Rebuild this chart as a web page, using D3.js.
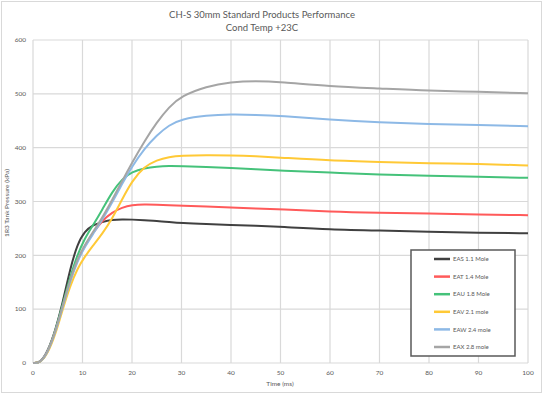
<!DOCTYPE html>
<html>
<head>
<meta charset="utf-8">
<script src="https://cdn.jsdelivr.net/npm/d3@7"></script>
<style>
  html, body { margin: 0; padding: 0; background: #fff; }
  text { font-family: Lato, "Open Sans", sans-serif; fill: #595959; }
</style>
</head>
<body>
<svg width="544" height="396"></svg>
<script>
const times = [0, 1.5, 3, 4.5, 6, 7.5, 9, 10.5, 12, 14, 16, 18, 20, 22.5, 25, 27.5, 30, 35, 40, 45, 50, 60, 70, 80, 90, 100];

const eas = [0, 0, 22, 60, 112, 175, 222, 245, 256, 262, 266, 267, 266.5, 265, 264, 262, 260, 258, 256.5, 255, 253, 248, 246, 244, 242, 241];
const eat = [0, 0, 20, 57, 106, 155, 192, 218, 240, 265, 280, 289, 293.5, 294.5, 294, 293, 292.5, 291, 289, 287, 285.5, 281, 279, 277.5, 276, 274.5];
const eau = [0, 0, 20, 58, 109, 160, 202, 232, 254, 285, 318, 342, 355, 362, 365, 366, 365.5, 364, 362, 360, 357.5, 354, 350, 348, 346, 344];
const eav = [0, 0, 18, 52, 100, 143, 176, 198, 217, 240, 268, 304, 338, 365, 377, 383, 385, 386, 385.5, 384, 381.5, 376, 373.5, 371, 370, 367];
const eaw = [0, 0, 20, 56, 104, 152, 190, 216, 238, 266, 298, 333, 365, 398, 423, 442, 453, 460, 462, 461, 459, 452, 447, 444, 442, 440];
const eax = [0, 0, 21, 57, 106, 155, 194, 220, 242, 270, 303, 338, 372, 412, 447, 476, 496, 514, 522, 524, 522, 514, 510, 505.5, 504, 501];

const seriesNames = ["EAS 1.1 Mole", "EAT 1.4 Mole", "EAU 1.8 Mole", "EAV 2.1 mole", "EAW  2.4 mole", "EAX 2.8 mole"];
const seriesValues = [eas, eat, eau, eav, eaw, eax];
const seriesColors = ["#404040", "#ff5a5a", "#45c27a", "#ffc936", "#8db9e6", "#a5a5a5"];

const xTicks = [0, 10, 20, 30, 40, 50, 60, 70, 80, 90, 100];
const yTicks = [0, 100, 200, 300, 400, 500, 600];

const svg = d3.select("svg");

// outer chart frame
svg.append("rect")
  .attr("x", 1.5).attr("y", 1.5)
  .attr("width", 540).attr("height", 391)
  .attr("fill", "#fff")
  .attr("stroke", "#d9d9d9");

const x = d3.scaleLinear().domain([0, 100]).range([33, 528]);
const y = d3.scaleLinear().domain([0, 600]).range([363, 40]);

// gridlines
svg.append("g")
  .selectAll("line")
  .data(yTicks)
  .join("line")
  .attr("x1", x(0)).attr("x2", x(100))
  .attr("y1", (d) => y(d)).attr("y2", (d) => y(d))
  .attr("stroke", "#d9d9d9")
  .attr("stroke-width", 1.2);

svg.append("g")
  .selectAll("line")
  .data(xTicks)
  .join("line")
  .attr("x1", (d) => x(d)).attr("x2", (d) => x(d))
  .attr("y1", y(0)).attr("y2", y(600))
  .attr("stroke", "#d9d9d9")
  .attr("stroke-width", 1.2);

// tick labels
svg.append("g")
  .selectAll("text")
  .data(yTicks)
  .join("text")
  .attr("x", 26)
  .attr("y", (d) => y(d) + 2.2)
  .attr("text-anchor", "end")
  .style("font-size", "6.5px")
  .text((d) => d);

svg.append("g")
  .selectAll("text")
  .data(xTicks)
  .join("text")
  .attr("x", (d) => x(d))
  .attr("y", 375)
  .attr("text-anchor", "middle")
  .style("font-size", "6.5px")
  .text((d) => d);

// axis titles
svg.append("text")
  .attr("transform", "translate(9,203) rotate(-90)")
  .attr("text-anchor", "middle")
  .style("font-size", "6.5px")
  .text("1R3 Tank Pressure (kPa)");

svg.append("text")
  .attr("x", 280).attr("y", 386)
  .attr("text-anchor", "middle")
  .style("font-size", "6.5px")
  .text("Time (ms)");

// title
svg.append("text")
  .attr("x", 262).attr("y", 18)
  .attr("text-anchor", "middle")
  .style("font-size", "9.5px")
  .text("CH-S 30mm Standard Products Performance");

svg.append("text")
  .attr("x", 262).attr("y", 31)
  .attr("text-anchor", "middle")
  .style("font-size", "9.5px")
  .text("Cond Temp +23C");

// lines
const line = d3.line()
  .x((d, i) => x(times[i]))
  .y((d) => y(d))
  .curve(d3.curveBasis);

svg.append("g")
  .selectAll("path")
  .data(seriesValues)
  .join("path")
  .attr("d", (d) => line(d))
  .attr("fill", "none")
  .attr("stroke", (d, i) => seriesColors[i])
  .attr("stroke-width", 2);

// legend
const legend = svg.append("g");
legend.append("rect")
  .attr("x", 411).attr("y", 250)
  .attr("width", 104).attr("height", 106)
  .attr("fill", "#fff")
  .attr("stroke", "#595959")
  .attr("stroke-width", 1.5);

const rows = legend.selectAll("g")
  .data(seriesNames)
  .join("g")
  .attr("transform", (d, i) => `translate(0, ${259 + i * 17.6})`);

rows.append("line")
  .attr("x1", 434).attr("x2", 450)
  .attr("stroke", (d, i) => seriesColors[i])
  .attr("stroke-width", 2.5);

rows.append("text")
  .attr("x", 453).attr("y", 2.2)
  .style("font-size", "6px")
  .text((d) => d);
</script>
</body>
</html>
